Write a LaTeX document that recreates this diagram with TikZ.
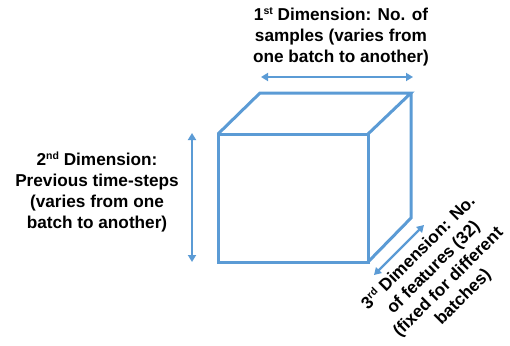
\documentclass[tikz,border=0pt]{standalone}
\usepackage{fontspec}
\setmainfont{Liberation Sans}
\usetikzlibrary{arrows.meta}
\definecolor{cubeblue}{RGB}{91,155,213}
\newcommand\mysup[1]{\raisebox{0.62ex}{\fontsize{10.5}{10.5}\selectfont #1}}
\tikzset{
  edge/.style={draw=cubeblue, line width=3pt, line join=miter},
  dimarrow/.style={draw=cubeblue, line width=2.2pt, {Triangle[width=8pt,length=7pt]}-{Triangle[width=8pt,length=7pt]}},
  lbl/.style={font=\bfseries\fontsize{17.2}{21}\selectfont, align=center, inner sep=0pt}
}
\begin{document}
\begin{tikzpicture}[x=1pt,y=-1pt]
\useasboundingbox (0,0) rectangle (510,345);
% cube corners
\coordinate (fa) at (218,134);
\coordinate (fb) at (368,134);
\coordinate (fc) at (368,262);
\coordinate (fd) at (218,262);
\coordinate (ba) at (260,93);
\coordinate (bb) at (411,93);
\coordinate (bc) at (411,218);
\draw[edge] (fa) rectangle (fc);
\draw[edge] (fa) -- (ba) -- (bb) -- (fb);
\draw[edge] (bb) -- (bc) -- (fc);
% arrows
\coordinate (t1) at (261,77);
\coordinate (t2) at (413,77);
\draw[dimarrow] (t1) -- (t2);
\coordinate (l1) at (192,133);
\coordinate (l2) at (192,262);
\draw[dimarrow] (l1) -- (l2);
\coordinate (d1) at (424,225);
\coordinate (d2) at (374,275);
\draw[dimarrow] (d1) -- (d2);
% labels
\node[lbl] (top) at (341,37) {1\mysup{st} Dimension: No. of\\samples (varies from\\one batch to another)};
\node[lbl] (left) at (97,192) {2\mysup{nd} Dimension:\\Previous time-steps\\(varies from one\\batch to another)};
\node[lbl, rotate=45] (diag) at (441,275) {3\mysup{rd} Dimension: No.\\of features (32)\\(fixed for different\\batches)};
\end{tikzpicture}
\end{document}
